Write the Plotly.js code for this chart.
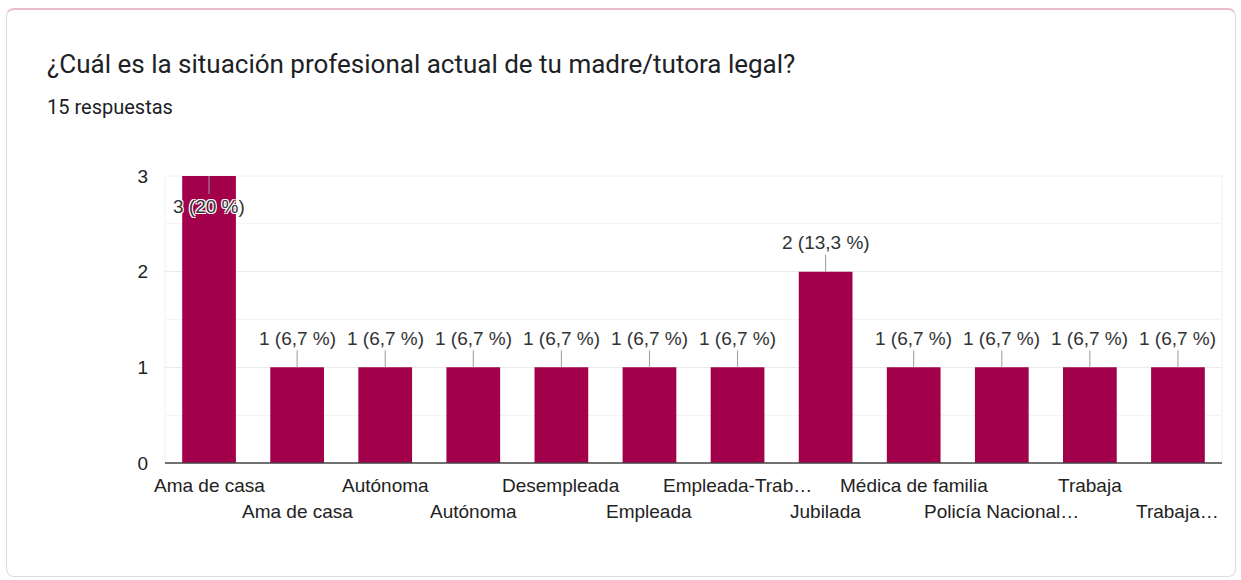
<!DOCTYPE html>
<html>
<head>
<meta charset="utf-8">
<script src="https://cdn.plot.ly/plotly-3.0.1.min.js"></script>
<style>
  html, body { margin: 0; padding: 0; background: #ffffff; width: 1241px; height: 580px; overflow: hidden; }
  #card { position: absolute; left: 6px; top: 8px; width: 1228px; height: 566px;
          border: 1px solid #dadce0; border-top: 2px solid #e9bcd0; border-radius: 8px; background: #fff; }
  #chart { position: absolute; left: 0; top: 0; width: 1241px; height: 580px; }
</style>
</head>
<body>
<div id="card"></div>
<div id="chart"></div>
<script>
const categories = ["Ama de casa", "Ama de casa", "Autónoma", "Autónoma", "Desempleada", "Empleada",
                    "Empleada-Trab…", "Jubilada", "Médica de familia", "Policía Nacional…", "Trabaja", "Trabaja…"];
const counts = [3, 1, 1, 1, 1, 1, 1, 2, 1, 1, 1, 1];
const labels = ["3 (20 %)", "1 (6,7 %)", "1 (6,7 %)", "1 (6,7 %)", "1 (6,7 %)", "1 (6,7 %)",
                "1 (6,7 %)", "2 (13,3 %)", "1 (6,7 %)", "1 (6,7 %)", "1 (6,7 %)", "1 (6,7 %)"];
const yTicks = [0, 1, 2, 3];
const titleText = '¿Cuál es la situación profesional actual de tu madre/tutora legal?';
const subtitleText = '15 respuestas';

const idx = categories.map((_, i) => i);
const halo = '1px 1px 0 #fff, -1px -1px 0 #fff, 1px -1px 0 #fff, -1px 1px 0 #fff';

const annotations = [];
categories.forEach((c, i) => {
  annotations.push({
    x: i, xref: 'x', y: 0, yref: 'paper', yanchor: 'middle',
    yshift: (i % 2 === 0) ? -22 : -48,
    text: c, showarrow: false,
    font: { family: 'Liberation Sans, Arial, sans-serif', size: 19, color: '#222222' }
  });
});
const ymax = Math.max(...counts);
counts.forEach((v, i) => {
  const atTop = v === ymax;
  annotations.push({
    x: i, xref: 'x', y: v, yref: 'y',
    text: labels[i], showarrow: true, arrowhead: 0, arrowwidth: 1, arrowcolor: '#999999',
    ax: 0, ay: atTop ? 30 : -29,
    font: { family: 'Liberation Sans, Arial, sans-serif', size: 19, color: '#333333', shadow: halo }
  });
});
annotations.push(
  { xref: 'paper', yref: 'paper', x: 0, y: 1, xshift: -120, yshift: 112, xanchor: 'left', yanchor: 'middle',
    text: titleText, showarrow: false,
    font: { family: 'Roboto, sans-serif', size: 26, color: '#202124' } },
  { xref: 'paper', yref: 'paper', x: 0, y: 1, xshift: -120, yshift: 69, xanchor: 'left', yanchor: 'middle',
    text: subtitleText, showarrow: false,
    font: { family: 'Roboto, sans-serif', size: 20, color: '#202124' } }
);

const trace = {
  type: 'bar', x: idx, y: counts, width: 0.61,
  marker: { color: '#a3004b' }, hoverinfo: 'none'
};

const layout = {
  width: 1241, height: 580,
  paper_bgcolor: 'rgba(0,0,0,0)', plot_bgcolor: 'rgba(0,0,0,0)',
  margin: { l: 165, r: 19, t: 176, b: 117 },
  showlegend: false,
  xaxis: {
    range: [-0.5, categories.length - 0.5], showticklabels: false, ticks: '',
    showgrid: false, zeroline: false, showline: false, fixedrange: true
  },
  yaxis: {
    range: [0, 3], tickvals: yTicks, ticktext: yTicks.map(String),
    showgrid: true, gridcolor: '#ebebeb', gridwidth: 1,
    minor: { dtick: 0.5, tick0: 0, showgrid: true, gridcolor: '#f4f4f4', gridwidth: 1 },
    zeroline: false, showline: false, ticks: '', ticklabelstandoff: 16,
    tickfont: { family: 'Liberation Sans, Arial, sans-serif', size: 19, color: '#222222' },
    fixedrange: true
  },
  annotations: annotations,
  shapes: [
    { type: 'rect', xref: 'paper', yref: 'paper', x0: 0, x1: 1, y0: 0, y1: 1,
      line: { color: '#f0f0f0', width: 1 }, layer: 'below' },
    { type: 'line', xref: 'paper', yref: 'paper', x0: 0, x1: 1, y0: 0, y1: 0,
      line: { color: '#444444', width: 1.5 }, layer: 'above' }
  ]
};

Plotly.newPlot('chart', [trace], layout, { displayModeBar: false, staticPlot: true });
</script>
</body>
</html>
